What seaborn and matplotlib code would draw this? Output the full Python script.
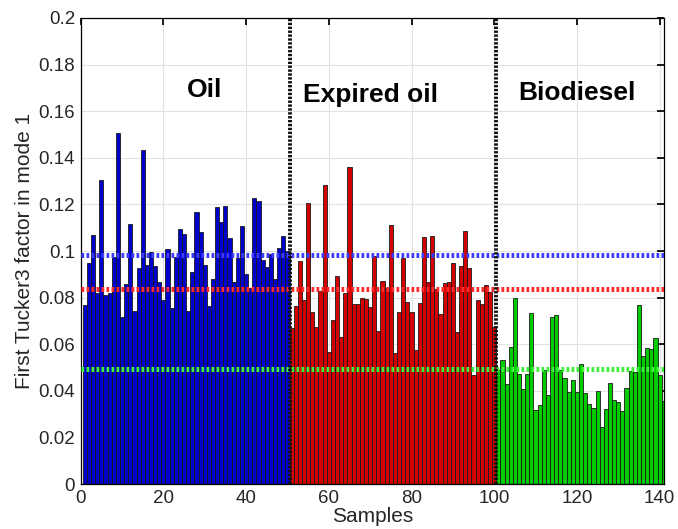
#!/usr/bin/env python3
"""
First Tucker3 factor (mode 1) per sample, coloured by sample class,
with class limit lines and class dividers.
"""

import numpy as np
import pandas as pd
import matplotlib
matplotlib.use("Agg")
import matplotlib.pyplot as plt
from matplotlib.ticker import FuncFormatter
import seaborn as sns

# Bar values, one list per class
oil = [
    0.0770, 0.0947, 0.1070, 0.0818, 0.1305, 0.0812, 0.0818, 0.0976, 0.1505, 0.0718,
    0.0857, 0.1118, 0.0743, 0.0928, 0.1433, 0.0940, 0.0995, 0.0937, 0.0868, 0.0790,
    0.1010, 0.0756, 0.0973, 0.1095, 0.1075, 0.0742, 0.0910, 0.1166, 0.1083, 0.0938,
    0.0764, 0.0881, 0.1187, 0.1126, 0.1193, 0.1054, 0.0866, 0.0969, 0.1107, 0.0900,
    0.0840, 0.1226, 0.1216, 0.0961, 0.0931, 0.0986, 0.0881, 0.1011, 0.1066, 0.1000,
]
expired_oil = [
    0.0671, 0.0764, 0.0957, 0.0790, 0.1207, 0.0738, 0.0672, 0.0828, 0.1283, 0.0565,
    0.0704, 0.0894, 0.0631, 0.0821, 0.1362, 0.0771, 0.0773, 0.0800, 0.0793, 0.0761,
    0.0979, 0.0657, 0.0873, 0.0840, 0.1110, 0.0564, 0.0740, 0.0971, 0.0780, 0.0740,
    0.0575, 0.0777, 0.1062, 0.0868, 0.1064, 0.0837, 0.0728, 0.0861, 0.0868, 0.0947,
    0.0651, 0.0937, 0.1087, 0.0928, 0.0470, 0.0788, 0.0771, 0.0854, 0.0825, 0.0673,
]
biodiesel = [
    0.0490, 0.0532, 0.0428, 0.0590, 0.0800, 0.0471, 0.0406, 0.0472, 0.0732, 0.0317,
    0.0339, 0.0489, 0.0382, 0.0718, 0.0724, 0.0489, 0.0456, 0.0395, 0.0446, 0.0396,
    0.0514, 0.0392, 0.0342, 0.0328, 0.0399, 0.0245, 0.0320, 0.0433, 0.0360, 0.0350,
    0.0313, 0.0411, 0.0484, 0.0481, 0.0770, 0.0548, 0.0582, 0.0578, 0.0625, 0.0468,
    0.0355,
]

groups = ["Oil", "Expired oil", "Biodiesel"]
class_limits = [0.0985, 0.0835, 0.0495]
dividers = [50.5, 100.5]
label_x = [30, 70, 120]
label_y = [0.169, 0.167, 0.168]

bar_colors = ["#0000cc", "#d40000", "#00cc00"]
line_colors = ["#3c3cff", "#ff2a2a", "#3cf03c"]

values = oil + expired_oil + biodiesel
df = pd.DataFrame({
    "sample": np.arange(1, len(values) + 1),
    "value": values,
    "group": ["Oil"] * len(oil) + ["Expired oil"] * len(expired_oil)
             + ["Biodiesel"] * len(biodiesel),
})

sns.set_theme(style="white")
plt.rcParams["font.family"] = ["Liberation Sans", "DejaVu Sans"]

fig, ax = plt.subplots(figsize=(6.78, 5.29), dpi=100)
fig.subplots_adjust(left=0.119, right=0.979, bottom=0.085, top=0.966)

ax.grid(True, color="#e2e2e2", linewidth=0.8)
ax.set_axisbelow(True)

sns.barplot(
    data=df, x="sample", y="value", hue="group", hue_order=groups,
    palette=bar_colors, saturation=1, native_scale=True, dodge=False, width=1.0,
    edgecolor="#1a1a1a", linewidth=0.6, errorbar=None, legend=False,
    ax=ax, zorder=2,
)

# class limit lines
for lim, col in zip(class_limits, line_colors):
    ax.axhline(lim, color=col, linestyle=(0, (0.55, 0.45)), linewidth=3.6, zorder=3)

# class dividers
for xv in dividers:
    ax.axvline(xv, color="#101010", linestyle=(0, (0.6, 0.4)), linewidth=2.8, zorder=4)

for name, tx, ty in zip(groups, label_x, label_y):
    ax.text(tx, ty, name, ha="center", va="center", fontsize=19,
            fontweight="bold", color="black", zorder=5)

ax.set_xlim(0, len(values))
ax.set_ylim(0, 0.2)
ax.set_xticks(np.arange(0, 141, 20))
ax.set_yticks(np.arange(0, 0.2001, 0.02))
ax.yaxis.set_major_formatter(FuncFormatter(lambda v, _: f"{round(v, 2):g}"))

ax.tick_params(direction="in", top=True, right=True, length=5,
               labelsize=13.5, color="black", pad=4)
for side in ax.spines.values():
    side.set_color("black")
    side.set_linewidth(0.9)

ax.set_xlabel("Samples", fontsize=15, labelpad=0)
ax.set_ylabel("First Tucker3 factor in mode 1", fontsize=15, labelpad=3)

plt.savefig("out.png", dpi=100)
plt.close()
